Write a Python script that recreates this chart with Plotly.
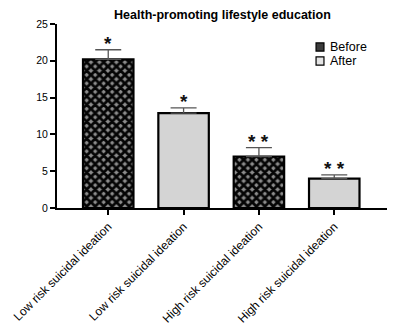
import plotly.graph_objects as go

# Group means, upper error (SD) and significance marks
categories = ["Low risk suicidal ideation", "Low risk suicidal ideation",
              "High risk suicidal ideation", "High risk suicidal ideation"]
groups = ["Before", "After", "Before", "After"]
means = [20.2, 12.9, 7.0, 4.0]
errors = [1.3, 0.7, 1.2, 0.5]
stars = ["*", "*", "* *", "* *"]
legend_names = ["Before", "After"]

positions = list(range(len(categories)))
font_family = "Liberation Sans, Arial, sans-serif"

fig = go.Figure()

bar_styles = {
    "Before": dict(color="#8c8c8c",
                   pattern=dict(shape="x", fgcolor="#050505", bgcolor="#8c8c8c",
                                size=6, solidity=0.72, fillmode="replace")),
    "After": dict(color="#d4d4d4"),
}
key_colors = {"Before": "#3c3c3c", "After": "#e4e4e4"}

for g in legend_names:
    idx = [i for i, gg in enumerate(groups) if gg == g]
    fig.add_trace(go.Bar(
        x=[positions[i] for i in idx],
        y=[means[i] for i in idx],
        name=g,
        width=0.67,
        marker=dict(line=dict(color="black", width=2.2), **bar_styles[g]),
        showlegend=False,
        error_y=dict(type="data", symmetric=False,
                     array=[errors[i] for i in idx],
                     arrayminus=[0 for _ in idx],
                     color="#555555", thickness=1.3, width=13),
    ))

for i in positions:
    fig.add_annotation(x=positions[i], y=means[i] + errors[i], text="<b>" + stars[i] + "</b>",
                       showarrow=False, yanchor="bottom", yshift=-6,
                       font=dict(family=font_family, size=19, color="#111111"))

# compact legend: small square keys with labels, top right of the plot area
key_x = (0.785, 0.809)
row_y = [0.875, 0.799]
for name, yc in zip(legend_names, row_y):
    fig.add_shape(type="rect", xref="paper", yref="paper",
                  x0=key_x[0], x1=key_x[1], y0=yc - 0.022, y1=yc + 0.022,
                  fillcolor=key_colors[name], line=dict(color="black", width=1.2))
    fig.add_annotation(xref="paper", yref="paper", x=0.822, y=yc, text=name,
                       showarrow=False, xanchor="left", yanchor="middle",
                       font=dict(family=font_family, size=12.5, color="black"))

fig.update_layout(
    width=393, height=334,
    margin=dict(l=57, r=6, t=24, b=126),
    paper_bgcolor="white", plot_bgcolor="white",
    barmode="overlay",
    showlegend=False,
    title=dict(text="<b>Health-promoting lifestyle education</b>",
               x=0.566, xanchor="center", y=0.955, yanchor="middle",
               font=dict(family=font_family, size=12.5, color="black")),
    font=dict(family=font_family, size=10, color="black"),
)

fig.update_xaxes(
    range=[-0.68, 3.7],
    tickmode="array", tickvals=positions, ticktext=categories,
    tickangle=-45, ticks="outside", ticklen=5, tickwidth=2, tickcolor="black",
    showline=True, linecolor="black", linewidth=2,
    showgrid=False, zeroline=False, automargin=False,
    tickfont=dict(family=font_family, size=12, color="black"),
)
fig.update_yaxes(
    range=[0, 25], tickvals=[0, 5, 10, 15, 20, 25],
    ticks="outside", ticklen=5, tickwidth=2, tickcolor="black",
    showline=True, linecolor="black", linewidth=2,
    showgrid=False, zeroline=False, automargin=False,
    tickfont=dict(family=font_family, size=10.5, color="black"),
)

fig.write_html("out.html")
